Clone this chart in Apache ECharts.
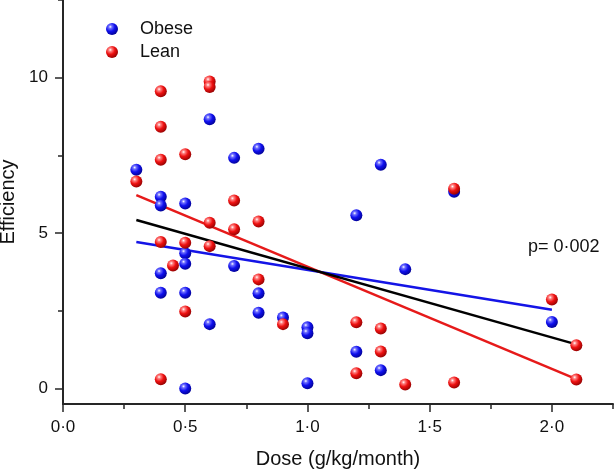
<!DOCTYPE html>
<html>
<head>
<meta charset="utf-8">
<script src="https://cdn.jsdelivr.net/npm/echarts@6/dist/echarts.min.js"></script>
<style>
html,body{margin:0;padding:0;background:#fff;}
#chart{width:614px;height:471px;}
</style>
</head>
<body>
<div id="chart"></div>
<script>
// ---- data ----
var obeseX = [0.3, 0.4, 0.4, 0.5, 0.6, 0.7, 0.8, 0.5, 0.5, 0.4, 0.7, 0.4, 0.5, 0.8, 0.8, 0.9, 0.6, 1.0, 1.0, 0.5, 1.0, 1.3, 1.6, 1.2, 1.4, 2.0, 1.2, 1.3];
var obeseY = [7.04, 6.17, 5.89, 5.95, 8.66, 7.42, 7.71, 4.35, 4.01, 3.71, 3.94, 3.08, 3.08, 3.06, 2.44, 2.28, 2.07, 1.97, 1.78, 0.0, 0.17, 7.20, 6.33, 5.57, 3.84, 2.14, 1.18, 0.59];
var leanX = [0.3, 0.4, 0.4, 0.4, 0.5, 0.6, 0.6, 0.7, 0.6, 0.7, 0.8, 0.4, 0.5, 0.6, 0.45, 0.8, 0.5, 0.9, 0.4, 1.6, 2.0, 2.1, 2.1, 1.2, 1.3, 1.3, 1.2, 1.4, 1.6];
var leanY = [6.66, 9.56, 8.42, 7.36, 7.54, 9.88, 9.70, 6.05, 5.33, 5.12, 5.37, 4.71, 4.69, 4.58, 3.96, 3.51, 2.48, 2.07, 0.30, 6.43, 2.86, 1.39, 0.29, 2.13, 1.93, 1.19, 0.49, 0.13, 0.19];
// regression line endpoints [x0, x1], [y0, y1]
var fitObeseX = [0.3, 2.0], fitObeseY = [4.71, 2.53];
var fitLeanX = [0.3, 2.1], fitLeanY = [6.22, 0.30];
var fitAllX = [0.3, 2.1], fitAllY = [5.42, 1.42];
var xMajorTicks = [0, 0.5, 1.0, 1.5, 2.0];
var xMinorTicks = [0.25, 0.75, 1.25, 1.75, 2.25];
var yMajorTicks = [0, 5, 10];
var yMinorTicks = [2.5, 7.5, 12.5];
var pText = 'p= 0·002';

function zip(xs, ys) { return xs.map(function (x, i) { return [x, ys[i]]; }); }
function sphere(base, dark, light) {
  return {
    type: 'radial', x: 0.36, y: 0.32, r: 0.75,
    colorStops: [
      { offset: 0, color: '#ffffff' },
      { offset: 0.18, color: light },
      { offset: 0.5, color: base },
      { offset: 1, color: dark }
    ]
  };
}
var FONT = 'Liberation Sans, Arial, sans-serif';
var AX = '#262626';
var blueBall = sphere('#1010ee', '#00008a', '#7070ff');
var redBall = sphere('#ee1111', '#8a0000', '#ff8080');

var chart = echarts.init(document.getElementById('chart'), null, { renderer: 'canvas' });
chart.setOption({
  animation: false,
  backgroundColor: '#fff',
  textStyle: { fontFamily: FONT },
  grid: { left: 63, right: 1, top: 0, bottom: 67, containLabel: false, outerBoundsMode: 'none' },
  legend: {
    orient: 'vertical', left: 101, top: 15,
    itemWidth: 46, itemHeight: 12, itemGap: 5,
    selectedMode: false,
    textStyle: { fontFamily: FONT, fontSize: 18, color: '#111', lineHeight: 18 },
    data: ['Obese', 'Lean']
  },
  xAxis: [{
    type: 'value', min: 0, max: 2.25,
    name: 'Dose (g/kg/month)', nameLocation: 'middle', nameGap: 45,
    nameTextStyle: { fontFamily: FONT, fontSize: 20, color: '#111' },
    axisLine: { show: true, onZero: false, lineStyle: { color: AX, width: 2 } },
    axisTick: { show: true, customValues: xMinorTicks, length: 5, lineStyle: { color: AX, width: 1.5 } },
    axisLabel: { customValues: xMajorTicks, margin: 15, fontFamily: FONT, fontSize: 17, color: '#111',
      formatter: function (v) { return v.toFixed(1).replace('.', '·'); } },
    splitLine: { show: false }
  }, {
    type: 'value', min: 0, max: 2.25, position: 'bottom',
    axisLine: { show: false, onZero: false },
    axisTick: { show: true, customValues: xMajorTicks, length: 8, lineStyle: { color: AX, width: 1.5 } },
    axisLabel: { show: false }, splitLine: { show: false }
  }],
  yAxis: [{
    type: 'value', min: -0.5, max: 12.5,
    name: 'Efficiency', nameLocation: 'middle', nameGap: 45,
    nameTextStyle: { fontFamily: FONT, fontSize: 20, color: '#111' },
    axisLine: { show: true, onZero: false, lineStyle: { color: AX, width: 2 } },
    axisTick: { show: true, customValues: yMinorTicks, length: 5, lineStyle: { color: AX, width: 1.5 } },
    axisLabel: { customValues: yMajorTicks, margin: 15, fontFamily: FONT, fontSize: 17, color: '#111' },
    splitLine: { show: false }
  }, {
    type: 'value', min: -0.5, max: 12.5, position: 'left',
    axisLine: { show: false, onZero: false },
    axisTick: { show: true, customValues: yMajorTicks, length: 8, lineStyle: { color: AX, width: 1.5 } },
    axisLabel: { show: false }, splitLine: { show: false }
  }],
  graphic: [{
    type: 'text', left: 528, top: 238, z: 10,
    style: { text: pText, fontFamily: FONT, fontSize: 18, fill: '#111' }
  }],
  series: [
    { name: 'fitObese', type: 'line', data: zip(fitObeseX, fitObeseY), symbol: 'none', z: 1,
      lineStyle: { color: '#1414e6', width: 2.5 } },
    { name: 'fitLean', type: 'line', data: zip(fitLeanX, fitLeanY), symbol: 'none', z: 1,
      lineStyle: { color: '#e61a1a', width: 2.5 } },
    { name: 'fitAll', type: 'line', data: zip(fitAllX, fitAllY), symbol: 'none', z: 1,
      lineStyle: { color: '#000', width: 2.5 } },
    { name: 'Obese', type: 'scatter', data: zip(obeseX, obeseY), symbolSize: 12, z: 3,
      itemStyle: { color: blueBall, opacity: 1 } },
    { name: 'Lean', type: 'scatter', data: zip(leanX, leanY), symbolSize: 12, z: 4,
      itemStyle: { color: redBall, opacity: 1 } }
  ]
});
</script>
</body>
</html>
